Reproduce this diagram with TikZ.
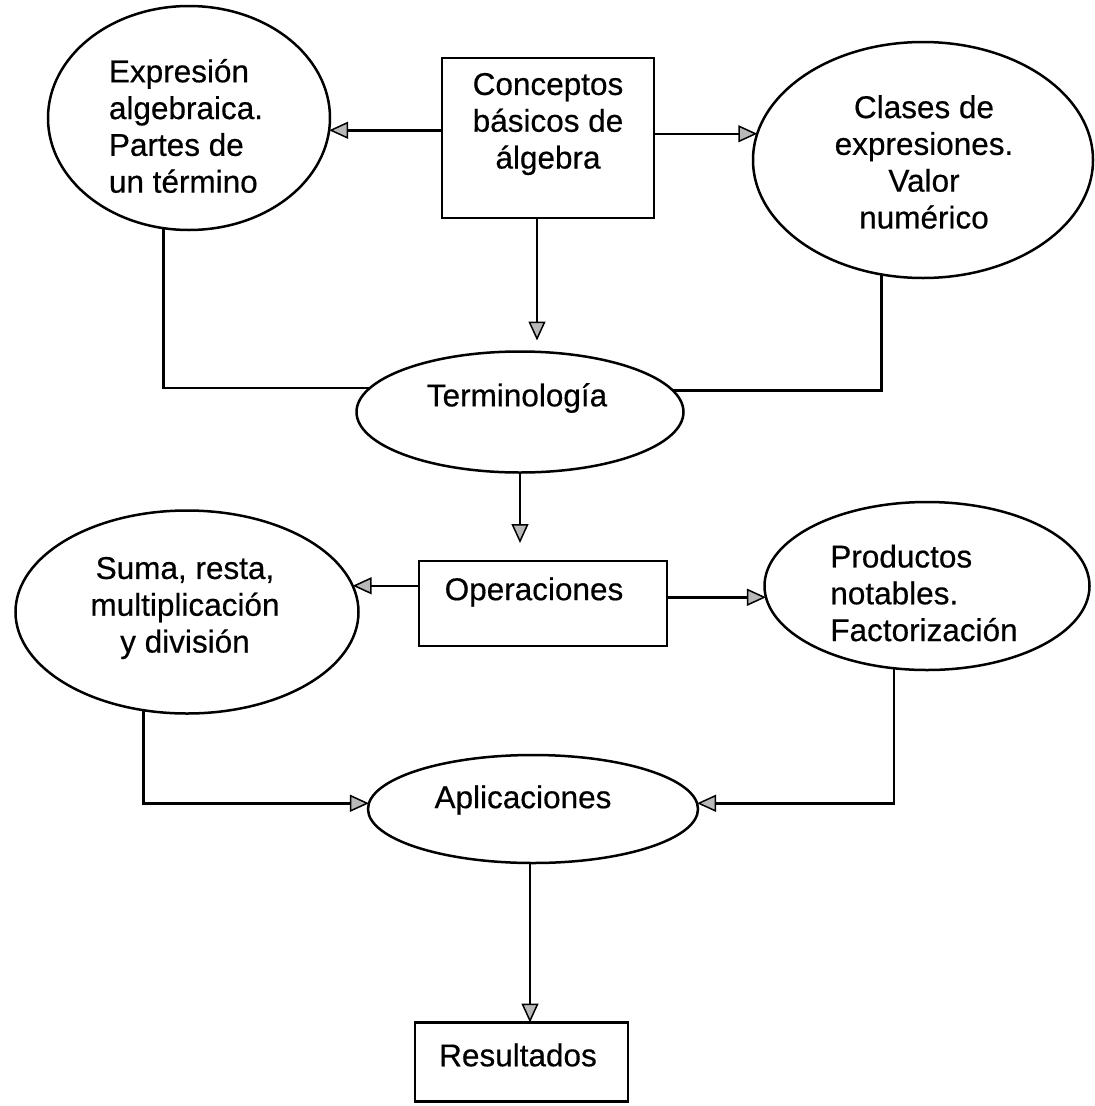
\documentclass[tikz,border=0pt]{standalone}
\usepackage{fontspec}
\setmainfont[FakeBold=0.5]{Liberation Sans}
\usetikzlibrary{shapes.geometric,arrows.meta}
\begin{document}
\begin{tikzpicture}[x=1pt,y=-1pt,
  shp/.style={draw=black,line width=2.5pt,inner sep=0pt,outer sep=0pt},
  ell/.style={shp,ellipse},
  box/.style={shp,rectangle},
  txt/.style={inner sep=0pt,font=\fontsize{31.5}{36.8}\selectfont},
  arr/.style={line width=2.5pt,-{Triangle[length=19pt,width=17pt,fill=gray!55,line width=1.5pt]}},
  con/.style={line width=2.5pt}]
\useasboundingbox[fill=white] (0,0) rectangle (1095,1106);
% shapes
\node[ell,minimum width=282pt,minimum height=224pt] (e1) at (189,118) {};
\node[box,minimum width=212pt,minimum height=160pt] (c) at (548,138) {};
\node[ell,minimum width=340pt,minimum height=236pt] (e2) at (923,160) {};
\node[ell,minimum width=327pt,minimum height=121pt] (term) at (520,412) {};
\node[ell,minimum width=343pt,minimum height=203pt] (e3) at (187,612) {};
\node[box,minimum width=248pt,minimum height=85pt] (op) at (543,603.5) {};
\node[ell,minimum width=325pt,minimum height=168pt] (e4) at (927,586) {};
\node[ell,minimum width=330pt,minimum height=108pt] (apl) at (533,809) {};
\node[box,minimum width=213pt,minimum height=79pt] (res) at (521.5,1062) {};
% texts
\node[txt,align=left] (t1) at (186,126) {Expresión\\algebraica.\\Partes de\\un término};
\node[txt,align=center] (tc) at (548,124) {Conceptos\\básicos de\\álgebra};
\node[txt,align=center] (t2) at (924,162) {Clases de\\expresiones.\\Valor\\numérico};
\node[txt] (tterm) at (517,398) {Terminología};
\node[txt,align=center] (t3) at (185,608) {Suma, resta,\\multiplicación\\y división};
\node[txt] (top) at (534,592) {Operaciones};
\node[txt,align=left] (t4) at (924,593) {Productos\\notables.\\Factorización};
\node[txt] (tapl) at (523,800) {Aplicaciones};
\node[txt] (tres) at (518,1055) {Resultados};
% connectors
\draw[arr] (c.west |- e1.-5) -- (e1.-5);
\draw[arr] (c.east |- e2.171) -- (e2.171);
\draw[arr] ([xshift=-11pt]c.south) -- ([xshift=-11pt,yshift=11pt]c.south |- term.north);
\draw[con] (e1.-103) |- (term.171);
\draw[con] (e2.-110) |- (term.8);
\draw[arr] (term.south) -- ([yshift=18pt]term.south |- op.north);
\draw[arr] (op.west |- e3.9) -- (e3.9);
\draw[arr] (op.east |- e4.184) -- (e4.184);
\draw[arr] (e3.-114) |- (apl.178);
\draw[arr] (e4.-112) |- (apl.2);
\draw[arr] ([xshift=-3pt]apl.south) -- ([xshift=-3pt]apl.south |- res.north);
\end{tikzpicture}
\end{document}
